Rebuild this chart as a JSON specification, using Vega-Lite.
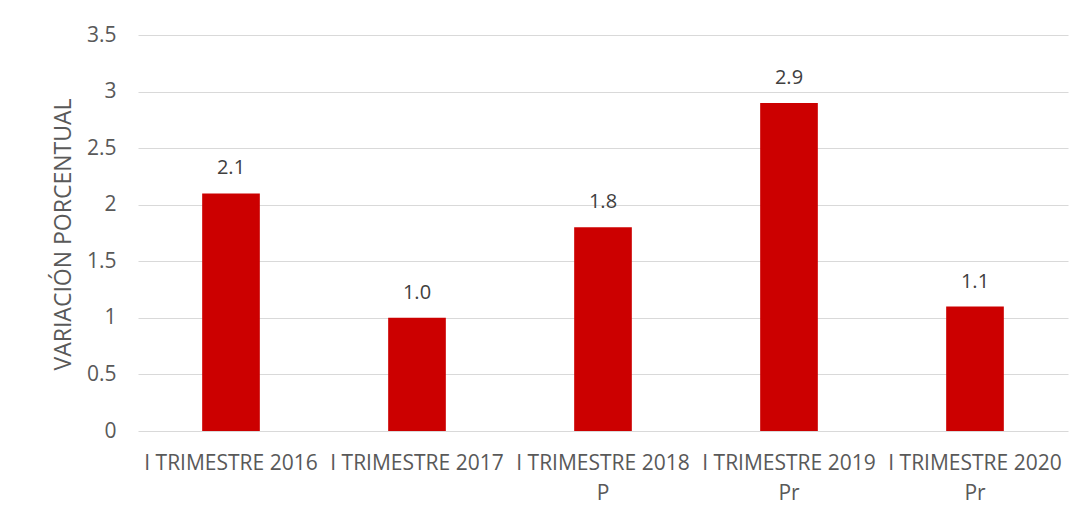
{
  "$schema": "https://vega.github.io/schema/vega-lite/v6.json",
  "width": 930,
  "height": 396,
  "autosize": {"type": "none"},
  "padding": {"left": 138, "top": 35, "right": 18, "bottom": 84},
  "background": "white",
  "config": {"view": {"stroke": null}, "font": "Open Sans"},
  "data": {"values": [
    {"periodo": "I TRIMESTRE 2016", "valor": 2.1},
    {"periodo": "I TRIMESTRE 2017", "valor": 1.0},
    {"periodo": "I TRIMESTRE 2018|P", "valor": 1.8},
    {"periodo": "I TRIMESTRE 2019|Pr", "valor": 2.9},
    {"periodo": "I TRIMESTRE 2020|Pr", "valor": 1.1}
  ]},
  "encoding": {
    "x": {
      "field": "periodo", "type": "nominal", "sort": null,
      "scale": {"paddingInner": 0.69, "paddingOuter": 0.345},
      "axis": {
        "title": null, "labelAngle": 0, "ticks": false, "domain": false,
        "labelExpr": "split(datum.label, '|')",
        "labelFont": "Open Sans", "labelFontSize": 21, "labelColor": "#595959",
        "labelPadding": 21, "labelLineHeight": 30, "labelBaseline": "top"
      }
    },
    "y": {
      "field": "valor", "type": "quantitative",
      "scale": {"domain": [0, 3.5], "nice": false},
      "axis": {
        "values": [0, 0.5, 1, 1.5, 2, 2.5, 3, 3.5], "format": "~g",
        "title": "VARIACIÓN PORCENTUAL", "titleFont": "Open Sans", "titleFontSize": 23,
        "titleFontWeight": "normal", "titleColor": "#595959", "titleX": -75, "titleY": 199,
        "titleAngle": -90, "titleBaseline": "middle",
        "ticks": false, "domain": false, "labelPadding": 22,
        "labelFont": "Open Sans", "labelFontSize": 21, "labelColor": "#595959",
        "grid": true, "gridColor": "#d9d9d9", "gridWidth": 1
      }
    }
  },
  "layer": [
    {"mark": {"type": "bar", "color": "#cc0000"}},
    {
      "mark": {"type": "text", "dy": -25, "fontSize": 20, "color": "#404040", "font": "Open Sans"},
      "encoding": {"text": {"field": "valor", "type": "quantitative", "format": ".1f"}}
    }
  ]
}
